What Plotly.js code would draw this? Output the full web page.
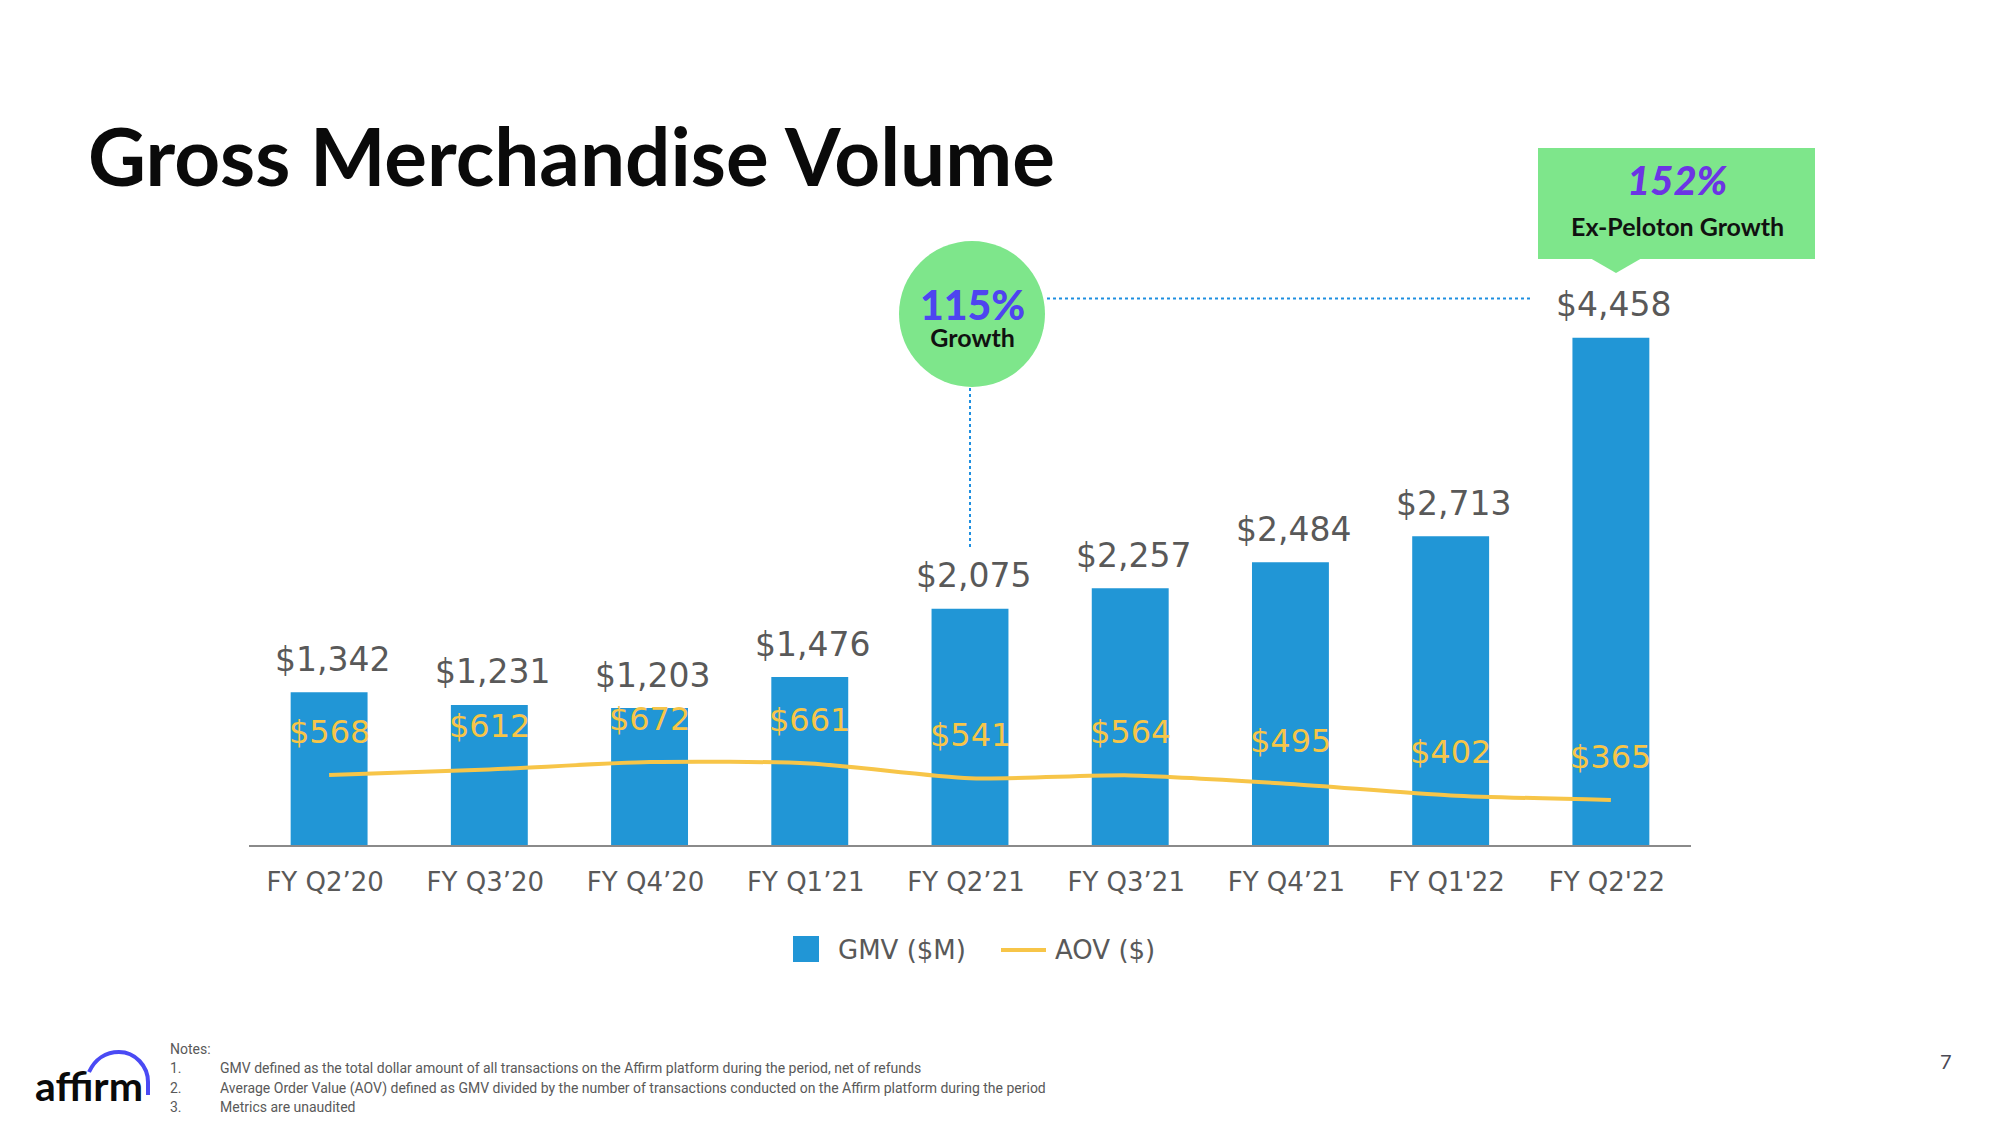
<!DOCTYPE html>
<html>
<head>
<meta charset="utf-8">
<script src="https://cdn.plot.ly/plotly-3.0.1.min.js"></script>
<style>
  html, body { margin: 0; padding: 0; background: #ffffff; }
  #chart { width: 2000px; height: 1125px; }
</style>
</head>
<body>
<div id="chart"></div>
<script>
// ---------------- DATA ----------------
const categories = ['FY Q2\u201920', 'FY Q3\u201920', 'FY Q4\u201920', 'FY Q1\u201921', 'FY Q2\u201921', 'FY Q3\u201921', 'FY Q4\u201921', "FY Q1'22", "FY Q2'22"];
const gmvValues = [1342, 1231, 1203, 1476, 2075, 2257, 2484, 2713, 4458];
const aovValues = [568, 612, 672, 661, 541, 564, 495, 402, 365];
const seriesNames = ['GMV ($M)', 'AOV ($)'];
const chartTitle = 'Gross Merchandise Volume';
const growthCallout = ['115%', 'Growth'];
const exPelotonCallout = ['152%', 'Ex-Peloton Growth'];
const notesHeader = 'Notes:';
const notes = [
  'GMV defined as the total dollar amount of all transactions on the Affirm platform during the period, net of refunds',
  'Average Order Value (AOV) defined as GMV divided by the number of transactions conducted on the Affirm platform during the period',
  'Metrics are unaudited'
];
const pageNumber = '7';
const logoText = 'affirm';

// ---------------- STYLE ----------------
const W = 2000, H = 1125;
const L = 249, R = 1691, T = 276, B = 845;
const px = X => (X - L) / (R - L);
const py = Y => (B - Y) / (B - T);

const barColor = '#2196D6';
const lineColor = '#F7C548';
const labelGray = '#595959';
const green = '#7EE68B';
const dotBlue = '#1E8FE0';
const numFont = 'DejaVu Sans, Verdana, sans-serif';
const headFont = 'Lato, Inter, sans-serif';
const noteFont = 'Liberation Sans Narrow, Roboto, sans-serif';

const fmt = v => '$' + v.toLocaleString('en-US');

// ---------------- TRACES ----------------
const traces = [
  {
    type: 'bar',
    name: seriesNames[0],
    x: categories,
    y: gmvValues,
    marker: { color: barColor },
    width: 0.48,
    hoverinfo: 'x+y',
    showlegend: false
  },
  {
    type: 'scatter',
    mode: 'lines',
    name: seriesNames[1],
    x: categories,
    y: aovValues,
    yaxis: 'y2',
    line: { color: lineColor, width: 4, shape: 'spline', smoothing: 0.7 },
    showlegend: false
  }
];

// ---------------- ANNOTATIONS ----------------
const annotations = [];
categories.forEach((c, i) => {
  annotations.push({
    x: c, y: gmvValues[i], xref: 'x', yref: 'y',
    text: fmt(gmvValues[i]), showarrow: false,
    yanchor: 'middle', yshift: 33, xshift: 3,
    font: { family: numFont, size: 33, color: labelGray }
  });
  annotations.push({
    x: c, y: aovValues[i], xref: 'x', yref: 'y2',
    text: fmt(aovValues[i]), showarrow: false,
    yanchor: 'middle', yshift: 43,
    font: { family: numFont, size: 32, color: lineColor }
  });
});

// growth circle text (one two-line label; base size sets the line spacing)
annotations.push({
  x: px(972), y: py(316), xref: 'paper', yref: 'paper', showarrow: false,
  text: '<span style="font-size:41px;fill:#4E44F0;font-weight:900">' + growthCallout[0] + '</span><br>' +
        '<span style="font-size:25px">' + growthCallout[1] + '</span>',
  xanchor: 'center', yanchor: 'middle', align: 'center',
  font: { family: headFont, size: 21, color: '#111111', weight: 700 }
});
// ex-peloton box text
annotations.push({
  x: px(1677), y: py(180), xref: 'paper', yref: 'paper', showarrow: false,
  text: exPelotonCallout[0], xanchor: 'center', yanchor: 'middle',
  font: { family: headFont, size: 40, color: '#6C34E4', weight: 900, style: 'italic' }
});
annotations.push({
  x: px(1677), y: py(226), xref: 'paper', yref: 'paper', showarrow: false,
  text: exPelotonCallout[1], xanchor: 'center', yanchor: 'middle',
  font: { family: headFont, size: 25, color: '#111111', weight: 700 }
});

// custom legend
annotations.push({
  x: px(836), y: py(950), xref: 'paper', yref: 'paper', showarrow: false,
  text: seriesNames[0], xanchor: 'left', yanchor: 'middle',
  font: { family: numFont, size: 26, color: labelGray }
});
annotations.push({
  x: px(1053), y: py(950), xref: 'paper', yref: 'paper', showarrow: false,
  text: seriesNames[1], xanchor: 'left', yanchor: 'middle',
  font: { family: numFont, size: 26, color: labelGray }
});

// notes
annotations.push({
  x: px(168), y: py(1049), xref: 'paper', yref: 'paper', showarrow: false,
  text: notesHeader, xanchor: 'left', yanchor: 'middle',
  font: { family: noteFont, size: 14, color: labelGray }
});
const noteYs = [1068, 1088, 1107];
notes.forEach((n, i) => {
  annotations.push({
    x: px(168), y: py(noteYs[i]), xref: 'paper', yref: 'paper', showarrow: false,
    text: (i + 1) + '.', xanchor: 'left', yanchor: 'middle',
    font: { family: noteFont, size: 14, color: labelGray }
  });
  annotations.push({
    x: px(218), y: py(noteYs[i]), xref: 'paper', yref: 'paper', showarrow: false,
    text: n, xanchor: 'left', yanchor: 'middle',
    font: { family: noteFont, size: 14, color: labelGray }
  });
});

// page number
annotations.push({
  x: px(1946), y: py(1061), xref: 'paper', yref: 'paper', showarrow: false,
  text: pageNumber, xanchor: 'center', yanchor: 'middle',
  font: { family: 'Lato, sans-serif', size: 20, color: '#4a4a55' }
});

// logo text
annotations.push({
  x: px(33), y: py(1085), xref: 'paper', yref: 'paper', showarrow: false,
  text: logoText, xanchor: 'left', yanchor: 'middle',
  font: { family: headFont, size: 41, color: '#0a0a0a', weight: 700 }
});

// ---------------- SHAPES ----------------
const P = (X, Y) => px(X) + ',' + py(Y);
const shapes = [
  // growth circle
  { type: 'circle', xref: 'paper', yref: 'paper',
    x0: px(899), x1: px(1045), y0: py(387), y1: py(241),
    fillcolor: green, line: { width: 0 }, layer: 'above' },
  // vertical dotted line down to FY Q2'21 bar label
  { type: 'line', xref: 'x', yref: 'paper',
    x0: categories[4], x1: categories[4], y0: py(388), y1: py(550),
    line: { color: dotBlue, width: 2, dash: 'dot' } },
  // horizontal dotted line
  { type: 'line', xref: 'paper', yref: 'paper',
    x0: px(1047), x1: px(1533), y0: py(298.5), y1: py(298.5),
    line: { color: dotBlue, width: 2, dash: 'dot' } },
  // ex-peloton box
  { type: 'rect', xref: 'paper', yref: 'paper',
    x0: px(1538), x1: px(1815), y0: py(259), y1: py(148),
    fillcolor: green, line: { width: 0 } },
  { type: 'path', xref: 'paper', yref: 'paper',
    path: 'M' + P(1590, 258) + ' L' + P(1642, 258) + ' L' + P(1616, 273) + ' Z',
    fillcolor: green, line: { width: 0 } },
  // legend swatches
  { type: 'rect', xref: 'paper', yref: 'paper',
    x0: px(793), x1: px(819), y0: py(962), y1: py(936),
    fillcolor: barColor, line: { width: 0 } },
  { type: 'line', xref: 'paper', yref: 'paper',
    x0: px(1001), x1: px(1046), y0: py(950), y1: py(950),
    line: { color: lineColor, width: 4 } },
  // logo arc
  { type: 'path', xref: 'paper', yref: 'paper',
    path: 'M' + P(89, 1072) + ' C' + P(95, 1059) + ' ' + P(106, 1052) + ' ' + P(119, 1052) +
          ' C' + P(135, 1052) + ' ' + P(148, 1066) + ' ' + P(148, 1082) + ' L' + P(148, 1095),
    line: { color: '#4A4AF4', width: 4 } }
];

// ---------------- LAYOUT ----------------
const layout = {
  width: W, height: H,
  paper_bgcolor: '#ffffff', plot_bgcolor: '#ffffff',
  margin: { l: L, r: W - R, t: T, b: H - B, pad: 0 },
  showlegend: false,
  title: {
    text: '<b>' + chartTitle + '</b>',
    x: 88 / W, xref: 'container', xanchor: 'left',
    y: 1 - 158 / H, yref: 'container', yanchor: 'middle',
    font: { family: headFont, size: 80, color: '#0a0a0a', weight: 700 }
  },
  xaxis: {
    type: 'category',
    showline: true, linecolor: '#8a8a8a', linewidth: 2,
    showgrid: false, zeroline: false, ticks: '',
    ticklabelstandoff: 13,
    ticklabelshift: -4,
    tickfont: { family: numFont, size: 26, color: labelGray },
    fixedrange: true
  },
  yaxis: {
    range: [0, 5000], visible: false, showgrid: false, zeroline: false, fixedrange: true
  },
  yaxis2: {
    range: [0, 4611], overlaying: 'y', side: 'right', visible: false,
    showgrid: false, zeroline: false, fixedrange: true
  },
  annotations: annotations,
  shapes: shapes
};

Plotly.newPlot('chart', traces, layout, { displayModeBar: false, staticPlot: true });
</script>
</body>
</html>
